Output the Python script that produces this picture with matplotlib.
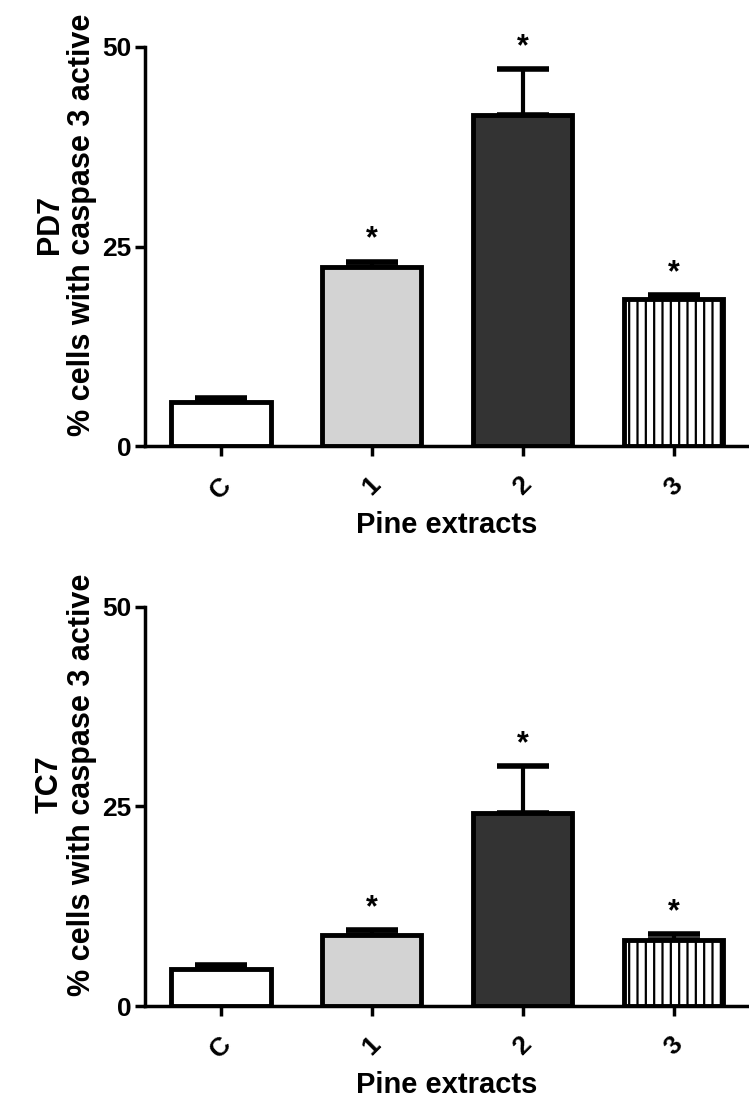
import matplotlib.pyplot as plt
import numpy as np

plt.rcParams['font.family'] = ['Liberation Sans', 'DejaVu Sans']
plt.rcParams['font.weight'] = 'bold'
plt.rcParams['hatch.linewidth'] = 1.6

categories = ['C', '1', '2', '3']
pd7_means = [5.5, 22.4, 41.5, 18.4]
pd7_errs = [0.5, 0.7, 5.7, 0.5]
tc7_means = [4.6, 8.9, 24.2, 8.3]
tc7_errs = [0.5, 0.6, 5.8, 0.7]
significant = [False, True, True, True]
panel_names = ['PD7', 'TC7']

colors = ['white', '#d3d3d3', '#333333', 'white']
hatches = ['', '', '', '||']


def draw_panel(ax, means, errs, name):
    x = np.arange(len(categories))
    ax.bar(x, means, width=0.66, color=colors, edgecolor='black',
           linewidth=3.5, hatch=hatches, zorder=2)
    ax.errorbar(x, means, yerr=[np.zeros(len(errs)), errs], fmt='none',
                ecolor='black', elinewidth=3, capsize=19, capthick=4, zorder=1)
    for xi, m, e, s in zip(x, means, errs, significant):
        if s:
            ax.text(xi, m + e + 0.9, '*', ha='center', va='bottom',
                    fontsize=22, fontweight='bold', clip_on=False)

    ax.set_xlim(-0.5, 3.5)
    ax.set_ylim(0, 50)
    ax.set_yticks([0, 25, 50])
    ax.set_xticks(x)
    ax.set_xticklabels(categories, rotation=45, ha='center')
    for sp in ['top', 'right']:
        ax.spines[sp].set_visible(False)
    ax.spines['left'].set_linewidth(2.5)
    ax.spines['bottom'].set_linewidth(2.5)
    ax.spines['left'].set_bounds(0, 50)
    ax.tick_params(axis='both', width=2.5, length=7, labelsize=19, pad=3)
    ax.tick_params(axis='x', pad=12)
    ax.set_ylabel(name + '\n% cells with caspase 3 active', fontsize=22,
                  fontweight='bold', linespacing=1.1)
    ax.yaxis.set_label_coords(-0.08, 0.555)
    ax.set_xlabel('Pine extracts', fontsize=21, fontweight='bold', labelpad=6)


fig = plt.figure(figsize=(7.49, 11.13), dpi=100)
ax1 = fig.add_axes([0.194, 0.599, 0.806, 0.359])
ax2 = fig.add_axes([0.194, 0.096, 0.806, 0.359])

draw_panel(ax1, pd7_means, pd7_errs, panel_names[0])
draw_panel(ax2, tc7_means, tc7_errs, panel_names[1])

plt.savefig('out.png', dpi=100)
plt.close()
